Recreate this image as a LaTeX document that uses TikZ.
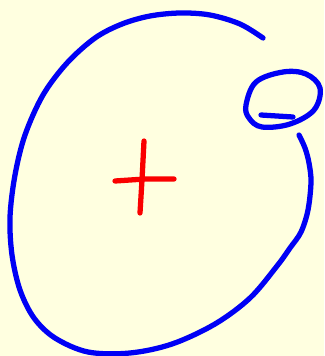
\documentclass[tikz,border=0pt]{standalone}
\definecolor{paper}{RGB}{255,255,224}
\definecolor{inkblue}{RGB}{0,0,245}
\definecolor{inkred}{RGB}{250,0,0}
\begin{document}
\begin{tikzpicture}[x=0.03cm,y=-0.03cm,line cap=round,line join=round]
\fill[paper] (0,0) rectangle (324,356);
\useasboundingbox (0,0) rectangle (324,356);

\draw[inkblue,line width=4.5pt] plot[smooth,tension=0.55] coordinates {(263,38) (240,24) (210,15) (180,13) (150,16) (122,24) (95,38) (67,63) (43,95) (25,135) (15,175) (10,217) (12,255) (20,290) (34,318) (55,338) (88,352) (130,353) (172,344) (215,324) (250,298) (277,266) (290,248) (301,232) (308,210) (311,182) (309,163) (305,148) (299,135)};

\draw[inkblue,line width=4.5pt] plot[smooth cycle,tension=0.6] coordinates {(246,105) (256,82) (283,72) (306,74) (320,88) (314,110) (290,124) (262,127) (249,118)};
\draw[inkblue,line width=4.5pt] (261,115) -- (293,117);

\draw[inkred,line width=4.5pt] (144,141) -- (142,180) -- (140,213);
\draw[inkred,line width=4.5pt] (115,181) -- (145,179) -- (174,179);
\end{tikzpicture}
\end{document}
